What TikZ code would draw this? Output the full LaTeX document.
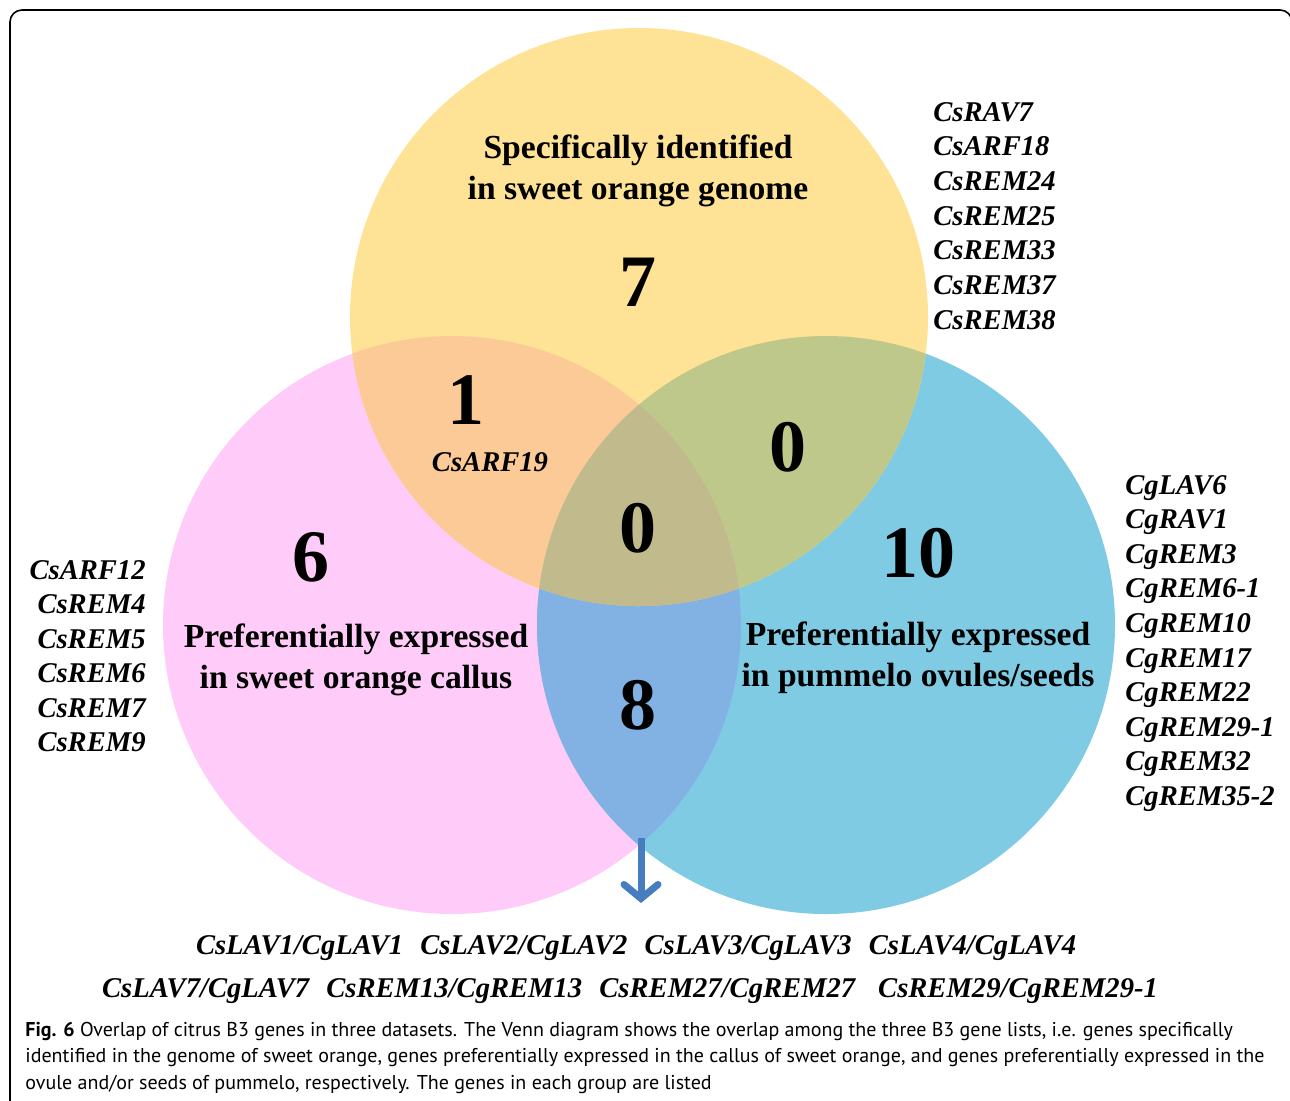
\documentclass[tikz,border=0pt]{standalone}
\usepackage{fontspec}
\setmainfont{Liberation Serif}
\newfontfamily\capfont{PT Sans}
\usetikzlibrary{arrows.meta}

\definecolor{sweet}{RGB}{254,226,150}
\definecolor{callus}{RGB}{255,204,250}
\definecolor{pummelo}{RGB}{127,203,228}
\definecolor{sweetcallus}{RGB}{251,202,150}
\definecolor{sweetpummelo}{RGB}{190,200,138}
\definecolor{calluspummelo}{RGB}{130,178,228}
\definecolor{allthree}{RGB}{192,186,140}
\definecolor{arrowblue}{RGB}{70,125,190}

\tikzset{
  gene/.style={font=\bfseries\itshape\fontsize{14.3}{17}\selectfont, inner sep=0pt},
  setname/.style={font=\bfseries\fontsize{16.8}{20.5}\selectfont, align=center, inner sep=0pt},
  count/.style={font=\bfseries\fontsize{37}{40}\selectfont, inner sep=0pt},
  caption/.style={font=\capfont\fontsize{10}{13.1}\selectfont, align=left, inner sep=0pt}
}

\begin{document}
\begin{tikzpicture}[x=0.5pt,y=-0.5pt]
  \useasboundingbox (0,0) rectangle (1290,1100);
  \clip (0,0) rectangle (1290,1100);
  % frame
  \draw[line width=0.8pt, rounded corners=6pt] (10,1110) -- (10,10) -- (1292,10) -- (1292,1110);

  % the three sets
  \coordinate (top) at (639,317);
  \coordinate (left) at (452,625);
  \coordinate (right) at (826,625);
  \fill[callus] (left) circle (144.5pt);
  \fill[pummelo] (right) circle (144.5pt);
  \fill[sweet] (top) circle (144.5pt);
  \begin{scope}
    \clip (left) circle (144.5pt);
    \fill[calluspummelo] (right) circle (144.5pt);
  \end{scope}
  \begin{scope}
    \clip (top) circle (144.5pt);
    \fill[sweetcallus] (left) circle (144.5pt);
    \fill[sweetpummelo] (right) circle (144.5pt);
    \clip (left) circle (144.5pt);
    \fill[allthree] (right) circle (144.5pt);
  \end{scope}

  % set names and counts
  \node[setname] (topname) at (638,171) {Specifically identified\\in sweet orange genome};
  \node[setname] (leftname) at (356,660) {Preferentially expressed\\in sweet orange callus};
  \node[setname] (rightname) at (918,658) {Preferentially expressed\\in pummelo ovules/seeds};
  \node[count] (n7) at (638,282) {7};
  \node[count] (n1) at (466,400) {1};
  \node[gene] (arf19) at (490,462) {CsARF19};
  \node[count] (n0top) at (788,447) {0};
  \node[count] (n0mid) at (638,528) {0};
  \node[count] (n6) at (311,557) {6};
  \node[count] (n10) at (918,553) {10};
  \node[count] (n8) at (638,705) {8};

  % gene lists
  \foreach \g [count=\i] in {CsRAV7,CsARF18,CsREM24,CsREM25,CsREM33,CsREM37,CsREM38}
    \node[gene, anchor=base west] (sw\i) at (933,121+34.7*\i-34.7) {\g};
  \foreach \g [count=\i] in {CsARF12,CsREM4,CsREM5,CsREM6,CsREM7,CsREM9}
    \node[gene, anchor=base east] (ca\i) at (146,579+34.5*\i-34.5) {\g};
  \foreach \g [count=\i] in {CgLAV6,CgRAV1,CgREM3,CgREM6-1,CgREM10,CgREM17,CgREM22,CgREM29-1,CgREM32,CgREM35-2}
    \node[gene, anchor=base west] (pu\i) at (1125,494+34.6*\i-34.6) {\g};

  % shared genes of callus and pummelo
  \coordinate (meet) at (641,838);
  \coordinate (down) at (641,903);
  \draw[arrowblue, line width=3.5pt, -{Straight Barb[length=7pt,width=17pt,line cap=round]}] (meet) -- (down);
  \node[gene, anchor=base] (both1) at (636,954)
    {CsLAV1/CgLAV1\hspace{0.6em}CsLAV2/CgLAV2\hspace{0.6em}CsLAV3/CgLAV3\hspace{0.6em}CsLAV4/CgLAV4};
  \node[gene, anchor=base] (both2) at (630,997)
    {CsLAV7/CgLAV7\hspace{0.6em}CsREM13/CgREM13\hspace{0.6em}CsREM27/CgREM27\hspace{0.8em}CsREM29/CgREM29-1};

  % caption
  \node[caption, anchor=north west] (cap) at (25,1022)
    {\textbf{Fig. 6} Overlap of citrus B3 genes in three datasets. The Venn diagram shows the overlap among the three B3 gene lists, i.e. genes specifically\\
     identified in the genome of sweet orange, genes preferentially expressed in the callus of sweet orange, and genes preferentially expressed in the\\
     ovule and/or seeds of pummelo, respectively. The genes in each group are listed};
\end{tikzpicture}
\end{document}
